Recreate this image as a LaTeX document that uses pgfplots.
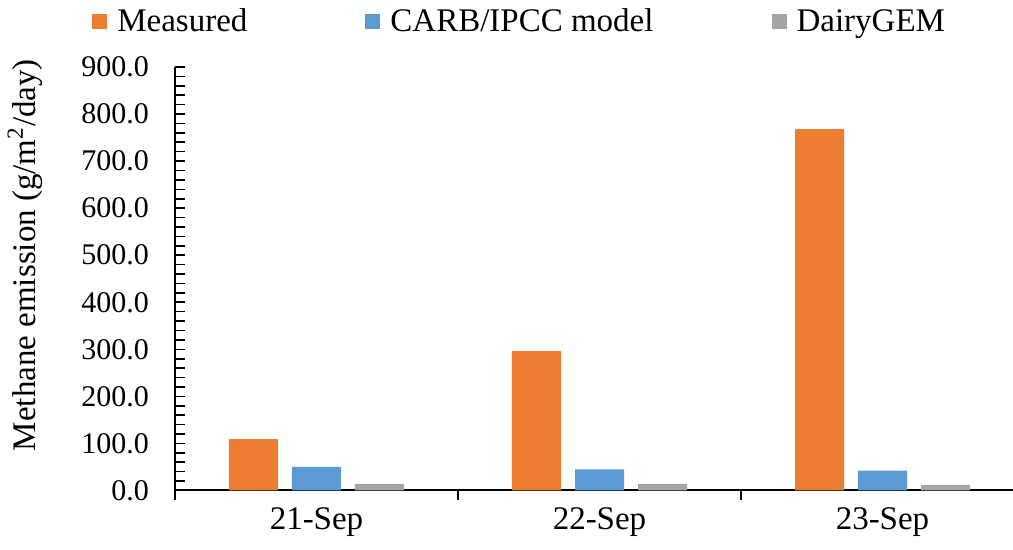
\documentclass[border=0pt]{standalone}
\usepackage{fontspec}
\setmainfont{Liberation Serif}
\usepackage{pgfplots}
\pgfplotsset{compat=1.18}
\pgfplotsset{ybar legend/.style={legend image code/.code={\fill[##1] (0pt,-3.75pt) rectangle (7.5pt,3.75pt); \path (10.5pt,9.75pt);}}}
\definecolor{cOr}{HTML}{ED7D31}
\definecolor{cBl}{HTML}{5B9BD5}
\definecolor{cGr}{HTML}{A5A5A5}
\begin{document}
\begin{tikzpicture}
\useasboundingbox (0,0) rectangle (506.5pt,275pt);
\begin{axis}[
  at={(87.5pt,29.75pt)}, anchor=south west,
  scale only axis, width=424.5pt, height=211.75pt,
  xmin=-0.5, xmax=2.5, ymin=0, ymax=900,
  axis x line*=bottom, axis y line*=left,
  axis line style={line width=1pt},
  ybar, bar width=24.5pt,
  xtick={-0.5,0.5,1.5,2.5},
  xticklabels={21-Sep,22-Sep,23-Sep},
  x tick label as interval,
  xtick align=outside,
  ytick align=inside,
  major tick length=5pt,
  minor tick length=5pt,
  tick style={line width=0.8pt, black},
  ytick={0,100,...,900},
  minor y tick num=4,
  x tick label style={font=\fontsize{16.5}{19}\selectfont},
  y tick label style={font=\fontsize{15}{18}\selectfont, xshift=-9.5pt,
    /pgf/number format/.cd, fixed, fixed zerofill, precision=1, assume math mode=true},
  ylabel={Methane emission (g/m\textsuperscript{2}/day)},
  ylabel style={at={(axis description cs:-0.1767,0.556)}, anchor=center, font=\fontsize{16.5}{19}\selectfont},
  legend columns=3,
  legend style={at={(axis description cs:-0.1049,1.1098)}, anchor=west, draw=none, fill=none,
    font=\fontsize{16.5}{19}\selectfont,
    /tikz/every even column/.append style={column sep=57pt}},
]
\addplot[fill=cOr, draw=none, bar shift=-31.5pt] coordinates {(0,109) (1,296) (2,768)};
\addplot[fill=cBl, draw=none, bar shift=0pt] coordinates {(0,50) (1,45) (2,42)};
\addplot[fill=cGr, draw=none, bar shift=31.5pt] coordinates {(0,14) (1,14) (2,12)};
\legend{Measured, CARB/IPCC model, DairyGEM}
\end{axis}
\end{tikzpicture}
\end{document}
